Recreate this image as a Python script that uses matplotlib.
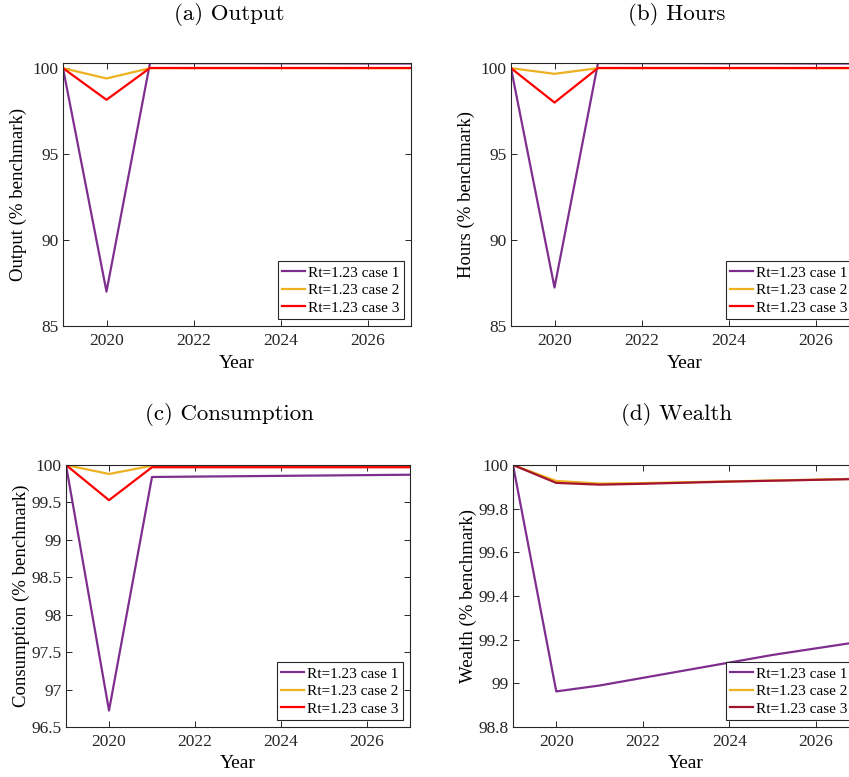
import numpy as np
import matplotlib.pyplot as plt

# annual model years
years = np.arange(2019, 2028)

labels = ["Rt=1.23 case 1", "Rt=1.23 case 2", "Rt=1.23 case 3"]

output_c1 = [100, 87.0, 100.30, 100.29, 100.29, 100.28, 100.28, 100.27, 100.27]
output_c2 = [100, 99.40, 100.0, 100.0, 100.0, 100.0, 100.0, 100.0, 100.0]
output_c3 = [100, 98.16, 100.01, 100.01, 100.01, 100.01, 100.01, 100.01, 100.01]

hours_c1 = [100, 87.24, 100.30, 100.29, 100.29, 100.28, 100.28, 100.27, 100.27]
hours_c2 = [100, 99.67, 100.0, 100.0, 100.0, 100.0, 100.0, 100.0, 100.0]
hours_c3 = [100, 98.0, 100.01, 100.01, 100.01, 100.01, 100.01, 100.01, 100.01]

cons_c1 = [100, 96.72, 99.84, 99.845, 99.85, 99.855, 99.86, 99.865, 99.87]
cons_c2 = [100, 99.88, 99.99, 99.99, 99.99, 99.99, 99.99, 99.99, 99.99]
cons_c3 = [100, 99.53, 99.97, 99.97, 99.97, 99.97, 99.97, 99.97, 99.97]

wealth_c1 = [100, 98.963, 98.99, 99.025, 99.06, 99.095, 99.13, 99.16, 99.19]
wealth_c2 = [100, 99.927, 99.915, 99.917, 99.921, 99.925, 99.929, 99.933, 99.937]
wealth_c3 = [100, 99.918, 99.910, 99.914, 99.919, 99.924, 99.928, 99.932, 99.936]

purple = '#7E2F8E'
orange = '#EDB120'
red = '#FF0000'
darkred = '#A2142F'

plt.rcParams['font.family'] = ['Liberation Serif', 'DejaVu Serif']
plt.rcParams['axes.edgecolor'] = '#262626'
plt.rcParams['xtick.color'] = '#262626'
plt.rcParams['ytick.color'] = '#262626'

W, H = 849, 777
fig = plt.figure(figsize=(W / 100, H / 100), dpi=100)

# (left px, top px, width px, height px, title, ylabel, series, colors, ylim, yticks, title x px, title y px)
panels = [
    (63, 63, 348, 263, "(a) Output", "Output (% benchmark)",
     [output_c1, output_c2, output_c3], [purple, orange, red],
     (85, 100.3), [85, 90, 95, 100], ['85', '90', '95', '100'], 229, 15),
    (511, 63, 348, 263, "(b) Hours", "Hours (% benchmark)",
     [hours_c1, hours_c2, hours_c3], [purple, orange, red],
     (85, 100.3), [85, 90, 95, 100], ['85', '90', '95', '100'], 677, 15),
    (66, 465, 344, 262, "(c) Consumption", "Consumption (% benchmark)",
     [cons_c1, cons_c2, cons_c3], [purple, orange, red],
     (96.5, 100), [96.5, 97, 97.5, 98, 98.5, 99, 99.5, 100],
     ['96.5', '97', '97.5', '98', '98.5', '99', '99.5', '100'], 229, 415),
    (513, 465, 346, 262, "(d) Wealth", "Wealth (% benchmark)",
     [wealth_c1, wealth_c2, wealth_c3], [purple, orange, darkred],
     (98.8, 100), [98.8, 99, 99.2, 99.4, 99.6, 99.8, 100],
     ['98.8', '99', '99.2', '99.4', '99.6', '99.8', '100'], 677, 415),
]

for (lx, ty, w, h, title, ylab, series, cols, ylim, yt, ytl, tx, tyy) in panels:
    ax = fig.add_axes([lx / W, 1 - (ty + h) / H, w / W, h / H])
    for s, c, lab in zip(series, cols, labels):
        ax.plot(years, s, color=c, lw=1.6, label=lab)
    ax.set_xlim(2019, 2027)
    ax.set_ylim(*ylim)
    ax.set_xticks([2020, 2022, 2024, 2026])
    ax.set_yticks(yt)
    ax.set_yticklabels(ytl)
    ax.tick_params(direction='in', top=True, right=True, length=4,
                   width=0.7, labelsize=12.5)
    ax.tick_params(axis='x', pad=5)
    ax.tick_params(axis='y', pad=3)
    for sp in ax.spines.values():
        sp.set_linewidth(0.8)
    ax.set_xlabel("Year", fontsize=14)
    ax.xaxis.set_label_coords(0.5, -37 / h)
    ax.xaxis.label.set_va('center')
    ax.set_ylabel(ylab, fontsize=13.5)
    ax.yaxis.set_label_coords(-45 / w, 0.5)
    ax.yaxis.label.set_va('center')
    leg = ax.legend(loc='lower right', fontsize=11, frameon=True, fancybox=False,
                    edgecolor='#262626', framealpha=1, borderpad=0.3,
                    labelspacing=0.25, handlelength=1.5, handletextpad=0.2,
                    borderaxespad=0.45)
    leg.get_frame().set_linewidth(0.8)
    fig.text(tx / W, 1 - tyy / H, title, ha='center', va='center',
             fontsize=16.5, family=['cmr10', 'DejaVu Serif'])

fig.savefig("out.png", dpi=100)
